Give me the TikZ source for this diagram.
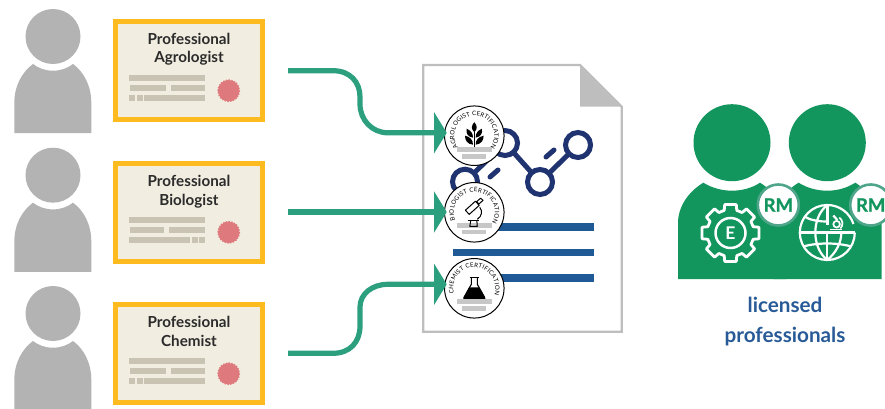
\documentclass[tikz,border=0pt]{standalone}
\usepackage{fontspec}
\setmainfont{Lato}
\usetikzlibrary{arrows.meta,decorations.text}
\definecolor{persongray}{HTML}{B3B3B3}
\definecolor{certgold}{HTML}{FDBB1F}
\definecolor{certcream}{HTML}{F1EDE0}
\definecolor{certrow}{HTML}{C8C3B2}
\definecolor{sealred}{HTML}{DE7A7D}
\definecolor{linkgreen}{HTML}{2CA07E}
\definecolor{docgray}{HTML}{BEBEBE}
\definecolor{molnavy}{HTML}{1F3370}
\definecolor{barblue}{HTML}{1F5A96}
\definecolor{teamgreen}{HTML}{13965E}
\definecolor{ringgreen}{HTML}{4FA58A}
\definecolor{labelblue}{HTML}{275A96}
\definecolor{inkdark}{HTML}{2B2B2B}
\tikzset{
  certbox/.style={draw=certgold,fill=certcream,line width=5pt,minimum width=147pt,minimum height=98pt,inner sep=0pt},
  certtext/.style={anchor=base,inner sep=0pt,font=\fontsize{15.2}{18}\selectfont\bfseries,text=inkdark},
  certrowfill/.style={fill=certrow},
  connector/.style={draw=linkgreen,line width=5.2pt,-{Triangle[length=12.7pt,width=41pt]}},
  badge/.style={circle,draw=black,fill=white,line width=1pt,minimum size=59.5pt,inner sep=0pt},
  badgebar/.style={fill=black!22},
  molring/.style={draw=molnavy,line width=5pt,fill=white},
  mollink/.style={draw=molnavy,line width=5pt,line cap=round},
  rmbadge/.style={circle,draw=ringgreen,fill=white,line width=2.6pt,minimum size=41pt,inner sep=0pt,text=teamgreen,font=\fontsize{18.5}{20}\selectfont\bfseries\addfontfeature{FakeBold=1}},
  iconline/.style={draw=white,line width=2.8pt},
  globeline/.style={draw=white,line width=2.2pt},
  licensedtext/.style={anchor=base,inner sep=0pt,font=\fontsize{20.7}{24}\selectfont\bfseries,text=labelblue}
}
\newcommand\personfig[1]{%
  \begin{scope}[shift={(0,#1)}]
    \fill[persongray] (53,36.5) circle[radius=27.5];
    \fill[persongray] (14.3,133.2) -- (14.3,103) .. controls (14.3,86) and (22,72) .. (33,64)
      .. controls (38,68) and (45,70.7) .. (53,70.7) .. controls (61,70.7) and (68,68) .. (73,64)
      .. controls (84,72) and (91.3,86) .. (91.3,103) -- (91.3,133.2) -- cycle;
  \end{scope}}
\newcommand\sealfig[2]{%
  \fill[sealred] (#1,#2) circle[radius=10.7];
  \draw[sealred,line width=1.2pt,dash pattern=on 1.4pt off 1.4pt] (#1,#2) circle[radius=10.8];}
\newcommand\rowbar[4]{\fill[certrowfill] (#1,#3) rectangle (#2,#4);}
\newcommand\badgetext[4]{%
  \path[decorate,decoration={text along path,text align={fit to path},
     text={|\fontsize{6.1}{7}\selectfont|#4}}]
     plot[domain=#1:#2,samples=50] ({#3*cos(\x)},{#3*sin(\x)});}
\begin{document}
\begin{tikzpicture}[x=1pt,y=-1pt]
\useasboundingbox (0,0) rectangle (885,409);
% people
\personfig{0}
\personfig{138.7}
\personfig{277}
% certificates
\node[certbox] (cert1) at (189,70.5) {};
\node[certbox] (cert2) at (189,212) {};
\node[certbox] (cert3) at (189,353.5) {};
\node[certtext] (c1a) at (189,44.6) {Professional};
\node[certtext] (c1b) at (189,63) {Agrologist};
\node[certtext] (c2a) at (189,186) {Professional};
\node[certtext] (c2b) at (189,205) {Biologist};
\node[certtext] (c3a) at (189,327.8) {Professional};
\node[certtext] (c3b) at (189,346) {Chemist};
\rowbar{129}{205}{75}{81}
\rowbar{130}{166}{85}{91}\rowbar{171}{205}{85}{91}
\rowbar{129}{135}{95}{101}\rowbar{137}{143}{95}{101}\rowbar{144}{205}{95}{101}
\sealfig{228.7}{90.7}
\rowbar{129}{205}{217}{223}
\rowbar{130}{164}{227}{233}\rowbar{169}{205}{227}{233}
\rowbar{129}{190}{237}{243}\rowbar{192}{198}{237}{243}\rowbar{199}{205}{237}{243}
\sealfig{228.7}{232.3}
\rowbar{129}{205}{358}{364}
\rowbar{130}{166}{368}{374}\rowbar{171}{205}{368}{374}
\rowbar{129}{135}{378}{384}\rowbar{137}{143}{378}{384}\rowbar{144}{205}{378}{384}
\sealfig{228.7}{373.7}
% document
\draw[docgray,line width=2.2pt,fill=white,line join=miter] (423.3,65) -- (580,65) -- (621.7,106.7) -- (621.7,331.7) -- (423.3,331.7) -- cycle;
\fill[docgray] (580,65) -- (580,106.7) -- (621.7,106.7) -- cycle;
% molecule
\coordinate (molA) at (505,143);
\coordinate (molB) at (465,181.7);
\coordinate (molC) at (540,182);
\coordinate (molD) at (578,145);
\draw[mollink] (molB) -- (molA);
\draw[mollink] (molA) -- (molC);
\draw[mollink] (molC) -- (molD);
\draw[mollink] (490,177) -- (498,170);
\draw[mollink] (546,157) -- (554,150);
\foreach \m in {molA,molB,molC,molD}{\draw[molring] (\m) circle[radius=12.5];}
% bars
\fill[barblue] (453,223.3) rectangle (594.3,230.7);
\fill[barblue] (453,248.9) rectangle (594.3,256.1);
\fill[barblue] (453,274) rectangle (594.3,281.6);
% badges
\node[badge] (b1) at (474.3,135.7) {};
\node[badge] (b2) at (474.3,212.3) {};
\node[badge] (b3) at (474.3,288.3) {};
\begin{scope}[shift={(474.3,135.7)}]
  \badgetext{145}{397}{20}{AGROLOGIST CERTIFICATION}
  \fill[black] (0,-3.5) .. controls (-3.5,-7) and (-3,-10) .. (0,-13.5) .. controls (3,-10) and (3.5,-7) .. (0,-3.5) -- cycle;
  \fill[black] (-1.3,2) .. controls (-6.5,1) and (-8.5,-2) .. (-7.6,-7) .. controls (-3.5,-5) and (-1.2,-2.5) .. (-1.3,2) -- cycle;
  \fill[black] (1.3,2) .. controls (6.5,1) and (8.5,-2) .. (7.6,-7) .. controls (3.5,-5) and (1.2,-2.5) .. (1.3,2) -- cycle;
  \fill[black] (-1.3,9) .. controls (-6.5,8.5) and (-9.5,5) .. (-9.3,0) .. controls (-4.5,1) and (-1.2,4) .. (-1.3,9) -- cycle;
  \fill[black] (1.3,9) .. controls (6.5,8.5) and (9.5,5) .. (9.3,0) .. controls (4.5,1) and (1.2,4) .. (1.3,9) -- cycle;
  \draw[black,line width=1.2pt] (0,-4) -- (0,12);
  \fill[badgebar] (-17.6,11.6) rectangle (17.4,16);
  \fill[badgebar] (-12,18.6) rectangle (11.4,23);
\end{scope}
\begin{scope}[shift={(474.3,212.3)}]
  \badgetext{158}{390}{20.5}{BIOLOGIST CERTIFICATION}
  \fill[badgebar] (-17.6,11) rectangle (17.4,15.4);
  \fill[badgebar] (-12,18) rectangle (11.4,22);
  \draw[black,line width=1pt,fill=white,line join=round] (2.3,-10.6) -- (4.7,-8.4) -- (8.7,-11.9) -- (6.3,-14.1) -- cycle;
  \draw[black,line width=1pt,fill=white,line join=round] (-8.9,-2.1) -- (-5.1,2.1) -- (4.9,-6.9) -- (1.1,-11.1) -- cycle;
  \draw[black,line width=1pt] (5.5,-5) .. controls (8.5,-1) and (7.5,4) .. (3,7);
  \draw[black,line width=1.2pt] (-6.5,8) -- (4.5,8);
  \draw[black,line width=1pt,line join=round] (-3.5,8) -- (-4.5,14) -- (3,14) -- (2.5,8);
\end{scope}
\begin{scope}[shift={(474.3,288.3)}]
  \badgetext{165}{378}{21}{CHEMIST CERTIFICATION}
  \draw[black,line width=1.1pt] (-4.8,-10.7) -- (4.8,-10.7);
  \draw[black,line width=1.1pt,line join=round] (-3,-10.7) -- (-3,-4) -- (-10.3,9) .. controls (-11,10.5) and (-10.5,11) .. (-9,11) -- (9,11) .. controls (10.5,11) and (11,10.5) .. (10.3,9) -- (3,-4) -- (3,-10.7);
  \fill[black] (-5,-1) -- (5,-1) -- (10.3,9) .. controls (11,10.5) and (10.5,11) .. (9,11) -- (-9,11) .. controls (-10.5,11) and (-11,10.5) .. (-10.3,9) -- cycle;
  \fill[badgebar] (-17.6,10.8) rectangle (17.4,15.4);
  \fill[badgebar] (-12,17.8) rectangle (11.4,22.4);
\end{scope}
% connectors
\coordinate (s1) at (288,70.7);
\coordinate (s2) at (288,212);
\coordinate (s3) at (288,353.3);
\coordinate (t1) at (446.7,132.8);
\coordinate (t2) at (446.7,212);
\coordinate (t3) at (446.7,284.3);
\draw[connector] (s1) -- (333,70.7) .. controls (350,70.7) and (360,82) .. (360,97) -- (360,104) .. controls (360,120) and (372,132.8) .. (388,132.8) -- (t1);
\draw[connector] (s2) -- (t2);
\draw[connector] (s3) -- (333,353.3) .. controls (350,353.3) and (360,342) .. (360,326) -- (360,307) .. controls (360,294) and (372,284.3) .. (388,284.3) -- (t3);
% licensed professionals
\fill[teamgreen] (732,142.7) circle[radius=38.5];
\fill[teamgreen] (827.3,142.7) circle[radius=38.5];
\fill[teamgreen] (678,279) -- (678,223) .. controls (678,207) and (688,192) .. (703.3,182.7)
  .. controls (712,188) and (722,190.7) .. (732,190.7) .. controls (742,190.7) and (752,188) .. (760,182.7)
  .. controls (775,192) and (786,207) .. (786,223) -- (786,279) -- cycle;
\fill[teamgreen] (773.3,279) -- (773.3,223) .. controls (773.3,207) and (783.3,192) .. (798.6,182.7)
  .. controls (807,188) and (817,190.7) .. (827.3,190.7) .. controls (837,190.7) and (847,188) .. (855.3,182.7)
  .. controls (870,192) and (881.5,207) .. (881.5,223) -- (881.5,279) -- cycle;
% gear
\begin{scope}[shift={(730.5,233)}]
  \draw[iconline,line join=round] (74.5:23.5)
    \foreach \a in {90,135,...,405}{ -- ({\a-15.5}:23.5) -- ({\a-11.5}:29) -- ({\a+11.5}:29) -- ({\a+15.5}:23.5)} -- cycle;
  \draw[iconline,line width=2.5pt] (0,0) circle[radius=15];
  \node[text=white,inner sep=0pt,font=\fontsize{17.5}{18}\selectfont\bfseries] (gearE) at (0,0) {E};
\end{scope}
% globe
\begin{scope}[shift={(827.3,232.5)}]
  \draw[globeline] (27.5,0) arc[start angle=0,end angle=342,radius=27.5];
  \draw[globeline] (-27.5,0) -- (27.5,0);
  \draw[globeline,line width=3pt] (0,-27.5) -- (0,-8);
  \draw[globeline] (0,0) -- (0,27.5);
  \draw[globeline] (-22,-15.5) .. controls (-15,-11.5) and (-7,-11) .. (0,-11);
  \draw[globeline] (-24,14) .. controls (-10,10) and (10,10) .. (24,14);
  \draw[globeline] (0,-27.5) .. controls (-16,-15) and (-16,15) .. (0,27.5);
  \draw[globeline] (14,0) .. controls (14,10) and (9,20) .. (0,27.5);
  % microscope
  \draw[globeline,line width=1.7pt] (9.3,-8.3) circle[radius=3.3];
  \draw[globeline,line width=2.2pt] (6,-17) -- (10,-12.5);
  \draw[globeline,line width=1.7pt] (12,-15) .. controls (16,-12) and (16,-7) .. (13,-4);
  \draw[globeline,line width=1.7pt] (3,-3) -- (15,-3);
\end{scope}
\node[rmbadge] (rm1) at (778.3,205) {RM};
\node[rmbadge] (rm2) at (870.7,205) {RM};
\node[licensedtext] (l1) at (785,312.7) {licensed};
\node[licensedtext] (l2) at (785,342.3) {professionals};
\end{tikzpicture}
\end{document}
